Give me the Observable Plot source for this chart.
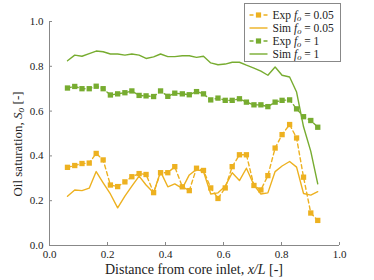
<!DOCTYPE html>
<html>
<head>
<meta charset="utf-8">
<script src="https://cdn.jsdelivr.net/npm/d3@7"></script>
<script src="https://cdn.jsdelivr.net/npm/@observablehq/plot@0.6"></script>
<style>
  body { margin: 0; background: white; }
  #wrap { position: relative; width: 374px; height: 280px; }
  #overlay { position: absolute; left: 0; top: 0; pointer-events: none; }
</style>
</head>
<body>
<div id="wrap"></div>
<script>
// ---- data ----
const xPos = [0.062, 0.087, 0.112, 0.137, 0.161, 0.185, 0.210, 0.235, 0.260, 0.284, 0.309, 0.333,
              0.359, 0.383, 0.408, 0.432, 0.458, 0.482, 0.507, 0.531, 0.556, 0.581, 0.606, 0.630,
              0.655, 0.679, 0.705, 0.729, 0.753, 0.778, 0.802, 0.828, 0.852, 0.876, 0.901, 0.925];

const expLow = [0.349, 0.357, 0.366, 0.368, 0.411, 0.382, 0.270, 0.263, 0.284, 0.307, 0.321, 0.317,
                0.236, 0.325, 0.325, 0.352, 0.262, 0.245, 0.345, 0.335, 0.257, 0.210, 0.257, 0.352,
                0.405, 0.405, 0.268, 0.248, 0.312, 0.435, 0.495, 0.540, 0.480, 0.305, 0.145, 0.112];

const simLow = [0.220, 0.248, 0.245, 0.256, 0.330, 0.280, 0.230, 0.168, 0.220, 0.265, 0.310, 0.270,
                0.235, 0.330, 0.262, 0.275, 0.255, 0.315, 0.340, 0.330, 0.230, 0.235, 0.265, 0.325,
                0.290, 0.345, 0.270, 0.230, 0.235, 0.330, 0.355, 0.375, 0.350, 0.232, 0.225, 0.240];

const expHigh = [0.703, 0.710, 0.700, 0.700, 0.711, 0.700, 0.672, 0.677, 0.682, 0.690, 0.670, 0.668,
                 0.665, 0.690, 0.666, 0.680, 0.677, 0.673, 0.687, 0.677, 0.650, 0.658, 0.648, 0.648,
                 0.655, 0.640, 0.628, 0.628, 0.620, 0.640, 0.648, 0.650, 0.610, 0.575, 0.558, 0.528];

const simHigh = [0.825, 0.850, 0.845, 0.857, 0.868, 0.865, 0.855, 0.855, 0.850, 0.855, 0.850, 0.835,
                 0.842, 0.855, 0.843, 0.843, 0.847, 0.847, 0.840, 0.845, 0.815, 0.807, 0.810, 0.818,
                 0.818, 0.805, 0.792, 0.778, 0.760, 0.797, 0.760, 0.752, 0.685, 0.530, 0.420, 0.275];

const xTicks = [0, 0.2, 0.4, 0.6, 0.8, 1.0];
const yTicks = [0, 0.2, 0.4, 0.6, 0.8, 1.0];
const seriesNames = ["Exp", "Sim", "Exp", "Sim"];
const seriesFo = ["0.05", "0.05", "1", "1"];
const xLabel = ["Distance from core inlet, ", "x/L", " [-]"];
const yLabel = ["Oil saturation, ", "S", "o", " [-]"];

const serif = "Liberation Serif";
const orange = "#EDB120", green = "#77AC30";
const rows = vals => xPos.map((x, i) => ({x, y: vals[i]}));

const chart = Plot.plot({
  width: 374, height: 280,
  marginLeft: 49, marginRight: 35, marginTop: 21, marginBottom: 35,
  style: {fontFamily: serif, fontSize: "11px", background: "white", color: "#222"},
  x: {domain: [0, 1]},
  y: {domain: [0, 1]},
  marks: [
    Plot.axisX({ticks: xTicks, tickSize: -3, tickPadding: 8, tickFormat: d3.format(".1f"), label: null, stroke: "#888"}),
    Plot.axisY({ticks: yTicks, tickSize: -3, tickPadding: 9, tickFormat: d3.format(".1f"), label: null, stroke: "#888"}),
    Plot.ruleX([0], {stroke: "#888"}),
    Plot.ruleY([0], {stroke: "#888"}),
    Plot.line(rows(simHigh), {x: "x", y: "y", stroke: green, strokeWidth: 1.4}),
    Plot.line(rows(expHigh), {x: "x", y: "y", stroke: green, strokeWidth: 1.4, strokeDasharray: "4,3"}),
    Plot.dot(rows(expHigh), {x: "x", y: "y", symbol: "square", fill: green, r: 3}),
    Plot.line(rows(simLow), {x: "x", y: "y", stroke: orange, strokeWidth: 1.4}),
    Plot.line(rows(expLow), {x: "x", y: "y", stroke: orange, strokeWidth: 1.4, strokeDasharray: "4,3"}),
    Plot.dot(rows(expLow), {x: "x", y: "y", symbol: "square", fill: orange, r: 3})
  ]
});
const wrap = document.getElementById("wrap");
wrap.appendChild(chart);

// ---- overlay: axis labels and legend ----
const ov = d3.select(wrap).append("svg").attr("id", "overlay")
  .attr("width", 374).attr("height", 280)
  .attr("font-family", serif);

const xl = ov.append("text").attr("x", 194).attr("y", 274).attr("text-anchor", "middle")
  .attr("font-size", 14).attr("fill", "#222");
xl.append("tspan").text(xLabel[0]);
xl.append("tspan").attr("font-style", "italic").text(xLabel[1]);
xl.append("tspan").text(xLabel[2]);

const yl = ov.append("text").attr("transform", "translate(22,144) rotate(-90)").attr("text-anchor", "middle")
  .attr("font-size", 13).attr("fill", "#222");
yl.append("tspan").text(yLabel[0]);
yl.append("tspan").attr("font-style", "italic").text(yLabel[1]);
yl.append("tspan").attr("font-style", "italic").attr("font-size", 9.5).attr("dy", 2).text(yLabel[2]);
yl.append("tspan").attr("dy", -2).text(yLabel[3]);

const lg = ov.append("g").attr("transform", "translate(244.5,3.5)");
lg.append("rect").attr("width", 96).attr("height", 58).attr("fill", "white").attr("stroke", "#888").attr("stroke-width", 1);
const colors = [orange, orange, green, green];
seriesNames.forEach((name, i) => {
  const y = 11.5 + i * 13;
  const exp = name === "Exp";
  lg.append("line").attr("x1", 5).attr("x2", 23).attr("y1", y).attr("y2", y)
    .attr("stroke", colors[i]).attr("stroke-width", 1.4).attr("stroke-dasharray", exp ? "4,3" : null);
  if (exp) lg.append("rect").attr("x", 14 - 2.6).attr("y", y - 2.6).attr("width", 5.2).attr("height", 5.2).attr("fill", colors[i]);
  const t = lg.append("text").attr("x", 28).attr("y", y + 3.5).attr("font-size", 11.5).attr("fill", "#222");
  t.append("tspan").text(name + " ");
  t.append("tspan").attr("font-style", "italic").text("f");
  t.append("tspan").attr("font-style", "italic").attr("font-size", 8.5).attr("dy", 2).text("o");
  t.append("tspan").attr("dy", -2).text(" = " + seriesFo[i]);
});
</script>
</body>
</html>
